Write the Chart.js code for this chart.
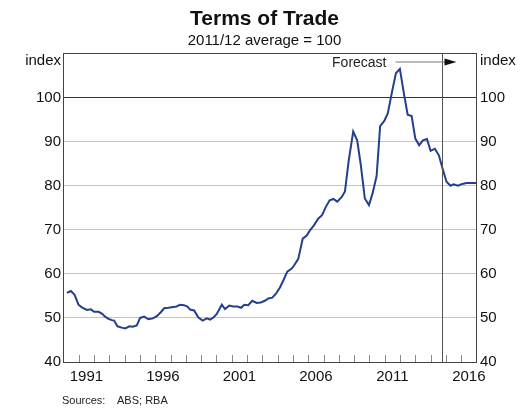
<!DOCTYPE html>
<html>
<head>
<meta charset="utf-8">
<script src="https://cdn.jsdelivr.net/npm/chart.js@4.4.1/dist/chart.umd.min.js"></script>
<style>
  html, body { margin: 0; padding: 0; background: #fff; }
  #wrap { position: relative; width: 529px; height: 420px; }
  #src { position: absolute; left: 62px; top: 393px; font: 11px "Liberation Sans", Arial, sans-serif; line-height: 14px; color: #222; white-space: pre; }
</style>
</head>
<body>
<div id="wrap">
  <canvas id="c" width="529" height="420"></canvas>
  <div id="src">Sources:    ABS; RBA</div>
</div>
<script>
// Terms of trade, 2011/12 average = 100
const dates = [1990.22,1990.48,1990.72,1990.98,1991.2,1991.53,1991.79,1992.0,1992.29,1992.51,1992.72,1992.94,1993.16,1993.31,1993.53,1993.81,1994.03,1994.31,1994.53,1994.79,1995.01,1995.27,1995.55,1995.84,1996.1,1996.36,1996.58,1996.86,1997.18,1997.4,1997.62,1997.88,1998.1,1998.28,1998.54,1998.82,1999.1,1999.37,1999.58,1999.8,2000.02,2000.35,2000.56,2000.84,2001.1,2001.37,2001.61,2001.82,2002.08,2002.34,2002.63,2002.89,2003.17,2003.39,2003.65,2003.89,2004.15,2004.37,2004.63,2004.92,2005.07,2005.35,2005.64,2005.9,2006.1,2006.37,2006.65,2006.9,2007.15,2007.4,2007.64,2007.9,2008.2,2008.4,2008.65,2008.94,2009.2,2009.44,2009.7,2009.97,2010.2,2010.47,2010.7,2010.97,2011.2,2011.5,2011.73,2011.99,2012.25,2012.5,2012.76,2013.0,2013.25,2013.5,2013.76,2014.0,2014.28,2014.54,2014.78,2015.04,2015.3,2015.5,2015.8,2016.06,2016.35,2016.75,2017.0];
const values = [55.7,56.1,55.3,53.0,52.4,51.8,51.95,51.4,51.4,51.0,50.3,49.8,49.5,49.4,48.1,47.8,47.6,48.1,48.0,48.3,50.0,50.3,49.7,49.9,50.4,51.3,52.2,52.3,52.5,52.6,53.0,52.9,52.6,51.9,51.7,50.1,49.4,49.9,49.6,50.1,50.9,53.0,52.0,52.8,52.6,52.6,52.3,53.0,52.9,53.9,53.4,53.5,53.9,54.4,54.6,55.5,56.9,58.5,60.5,61.2,61.9,63.4,68.0,68.7,69.8,71.0,72.5,73.3,75.2,76.7,77.0,76.4,77.5,78.7,85.8,92.3,90.3,84.6,77.1,75.6,78.2,82.2,93.5,94.7,96.4,101.7,105.5,106.5,101.0,96.1,95.8,90.7,89.2,90.3,90.6,87.9,88.4,86.9,83.9,80.9,80.0,80.3,80.0,80.4,80.6,80.6,80.6,80.7];
const yTickValues = [40, 50, 60, 70, 80, 90, 100];
const xLabelYears = [1991, 1996, 2001, 2006, 2011, 2016];
const tickYears = [1991,1992,1993,1994,1995,1996,1997,1998,1999,2000,2001,2002,2003,2004,2005,2006,2007,2008,2009,2010,2011,2012,2013,2014,2015,2016];
const forecastStart = 2014.75;
const yMin = 40, yMax = 110, unitValue = 108.3;

const FONT = '"Liberation Sans", Arial, sans-serif';

function yTicksBuilder(scale) {
  scale.ticks = yTickValues.concat([unitValue, yMax]).map(v => ({ value: v }));
}
function yLabel(v) {
  if (v === unitValue) return 'index';
  if (v === yMax) return '';
  return String(v);
}

const extras = {
  id: 'extras',
  afterDatasetsDraw(chart) {
    const { ctx, chartArea: a, scales: { x } } = chart;
    ctx.save();
    // inward year tick marks
    ctx.strokeStyle = '#8a8a8a';
    ctx.lineWidth = 1;
    ctx.beginPath();
    tickYears.forEach(yr => {
      const px = Math.round(x.getPixelForValue(yr)) + 0.5;
      ctx.moveTo(px, a.bottom);
      ctx.lineTo(px, a.bottom - 7);
    });
    ctx.stroke();
    // forecast divider
    const fx = Math.round(x.getPixelForValue(forecastStart)) + 0.5;
    ctx.strokeStyle = '#555';
    ctx.beginPath();
    ctx.moveTo(fx, a.top);
    ctx.lineTo(fx, a.bottom);
    ctx.stroke();
    // Forecast label and arrow
    const ly = a.top + 8;
    ctx.fillStyle = '#222';
    ctx.font = '14px ' + FONT;
    ctx.textAlign = 'right';
    ctx.textBaseline = 'middle';
    ctx.fillText('Forecast', fx - 56, ly + 2);
    ctx.strokeStyle = '#777';
    ctx.beginPath();
    ctx.moveTo(fx - 47, ly + 0.5);
    ctx.lineTo(fx + 6, ly + 0.5);
    ctx.stroke();
    ctx.fillStyle = '#111';
    ctx.beginPath();
    ctx.moveTo(fx + 14, ly + 0.5);
    ctx.lineTo(fx + 2, ly - 3);
    ctx.lineTo(fx + 2, ly + 4);
    ctx.closePath();
    ctx.fill();
    ctx.restore();
  }
};

new Chart(document.getElementById('c'), {
  type: 'line',
  data: {
    datasets: [{
      data: dates.map((d, i) => ({ x: d, y: values[i] })),
      borderColor: '#243f8c',
      borderWidth: 2,
      pointRadius: 0,
      tension: 0,
      fill: false
    }]
  },
  options: {
    responsive: false,
    animation: false,
    events: [],
    layout: { padding: { top: 0, bottom: 28, left: 0, right: 0 } },
    plugins: {
      legend: { display: false },
      tooltip: { enabled: false },
      title: {
        display: true,
        text: 'Terms of Trade',
        color: '#111',
        font: { family: FONT, size: 21, weight: 'bold', lineHeight: 1.2 },
        padding: { top: 7, bottom: 0 }
      },
      subtitle: {
        display: true,
        text: '2011/12 average = 100',
        color: '#111',
        font: { family: FONT, size: 15, lineHeight: 1.2 },
        padding: { top: 0, bottom: 3.3 }
      }
    },
    scales: {
      x: {
        type: 'linear',
        min: 1990,
        max: 2017,
        afterBuildTicks(scale) { scale.ticks = xLabelYears.map(y => ({ value: y + 0.5 })); },
        ticks: {
          autoSkip: false, maxRotation: 0, minRotation: 0, padding: 6,
          color: '#111', font: { family: FONT, size: 15 },
          callback: v => String(Math.floor(v))
        },
        grid: { display: false, drawTicks: false },
        border: { display: true, color: '#444', width: 1 }
      },
      y: {
        position: 'left',
        min: yMin, max: yMax,
        afterBuildTicks: yTicksBuilder,
        afterFit(scale) { scale.width = 63.5; },
        ticks: {
          autoSkip: false, padding: 2.5, color: '#111',
          font: { family: FONT, size: 15 },
          callback: yLabel
        },
        grid: {
          drawTicks: false,
          lineWidth: 1,
          color: c => {
            const v = c.tick && c.tick.value;
            if (v === 100) return '#333';
            if (v === yMax) return '#444';
            if (v === unitValue || v === yMin) return 'rgba(0,0,0,0)';
            return '#c4c4c4';
          }
        },
        border: { display: true, color: '#444', width: 1 }
      },
      y2: {
        position: 'right',
        min: yMin, max: yMax,
        afterBuildTicks: yTicksBuilder,
        afterFit(scale) { scale.width = 52.5; },
        ticks: {
          autoSkip: false, padding: 3.5, color: '#111',
          font: { family: FONT, size: 15 },
          callback: yLabel
        },
        grid: { display: false, drawTicks: false },
        border: { display: true, color: '#444', width: 1 }
      }
    }
  },
  plugins: [extras]
});
</script>
</body>
</html>
